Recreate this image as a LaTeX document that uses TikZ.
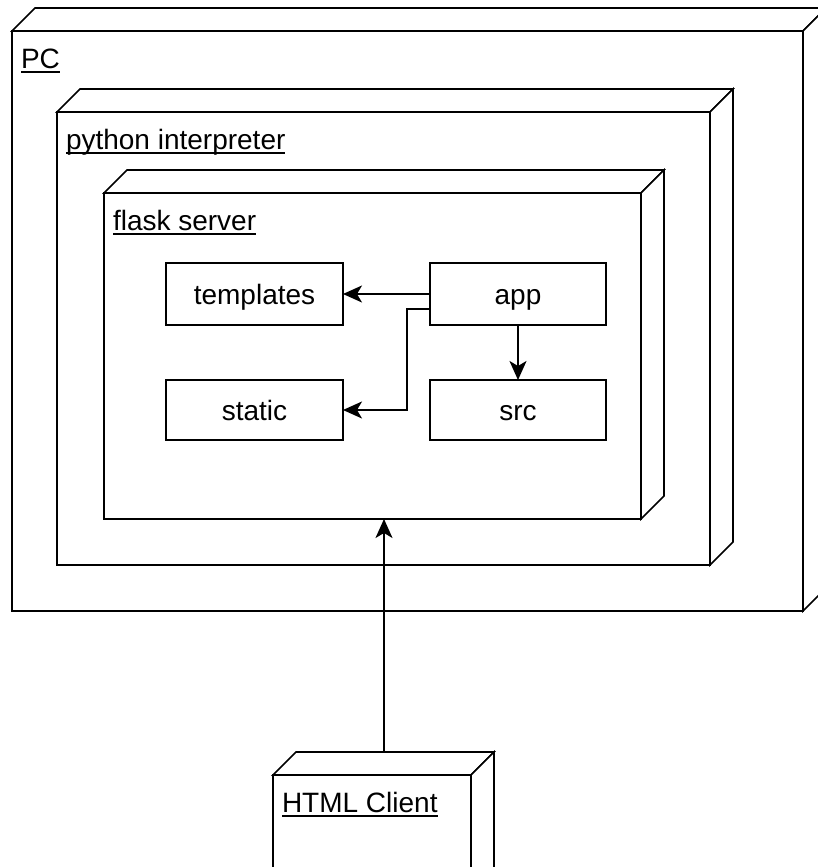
\documentclass[tikz,border=0pt]{standalone}
\usepackage{fontspec}
\setmainfont{Liberation Sans}
\usetikzlibrary{calc,arrows.meta}
\tikzset{
  front/.style={draw, fill=white, anchor=north west, inner sep=0pt, outer sep=0pt},
  inbox/.style={draw, fill=white, inner sep=0pt, outer sep=0pt, text height=24pt, text depth=4pt, font=\fontsize{28}{32}\selectfont},
  lbl/.style={anchor=base west, inner sep=0pt, outer sep=0pt, font=\fontsize{28}{32}\selectfont},
  conn/.style={line width=1.6pt, -{Stealth[length=19pt,width=17pt,inset=5pt]}},
}
\newcommand\cubenode[6]{%
  \node[front, minimum width=#4pt, minimum height=#5pt] (#1) at (#2,#3) {};
  \draw[fill=white] (#1.north west) -- ++(23,-23) -- ($(#1.north east)+(23,-23)$) -- (#1.north east) -- cycle;
  \draw[fill=white] (#1.north east) -- ++(23,-23) -- ($(#1.south east)+(23,-23)$) -- (#1.south east) -- cycle;
  \node[lbl] (#1l) at ($(#1.north west)+(9,37)$) {#6};
  \draw ([yshift=-4pt]#1l.base west) -- ([yshift=-4pt]#1l.base east);
}
\begin{document}
\begin{tikzpicture}[x=1pt,y=-1pt,line width=1.6pt]
\useasboundingbox (0,0) rectangle (818,867);
\cubenode{pc}{12}{31}{791}{580}{PC}
\cubenode{py}{57}{112}{653}{453}{python interpreter}
\cubenode{fl}{104}{193}{537}{326}{flask server}
\cubenode{html}{273}{775}{198}{150}{HTML Client}
\node[inbox, minimum width=177pt, minimum height=62pt] (templates) at (254.5,294) {templates};
\node[inbox, minimum width=176pt, minimum height=62pt] (app) at (518,294) {app};
\node[inbox, minimum width=177pt, minimum height=60pt] (static) at (254.5,410) {static};
\node[inbox, minimum width=176pt, minimum height=60pt] (src) at (518,410) {src};
\coordinate (htop) at ($(html.north west)+(111,-23)$);
\draw[conn] (app.west) -- (templates.east);
\draw[conn] ([yshift=-15pt]app.west) -- ++(-23,0) |- (static.east);
\draw[conn] (app.south) -- (src.north);
\draw[conn] (htop) -- (htop |- fl.south);
\end{tikzpicture}
\end{document}
